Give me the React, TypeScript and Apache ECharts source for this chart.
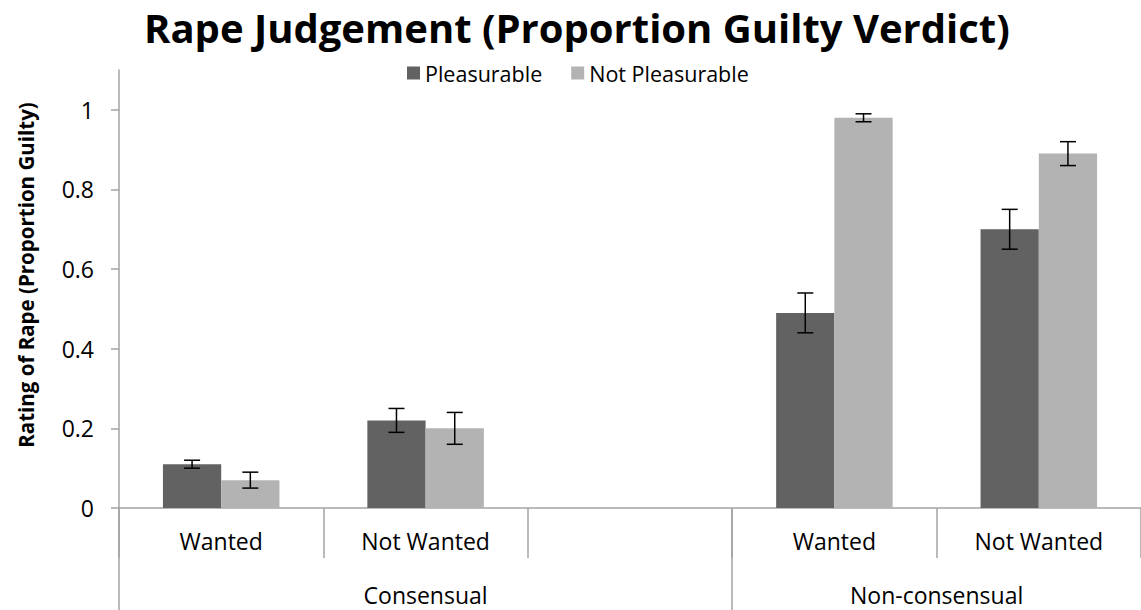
import React, { useEffect, useRef } from "react";
import * as echarts from "echarts";

const titleText = "Rape Judgement (Proportion Guilty Verdict)";
const yAxisTitle = "Rating of Rape (Proportion Guilty)";
const categories = ["Wanted", "Not Wanted", "", "Wanted", "Not Wanted"];
const groups = ["Consensual", "Non-consensual"];
const groupSizes = [3, 2];
const seriesNames = ["Pleasurable", "Not Pleasurable"];
const pleasurable = [0.11, 0.22, null, 0.49, 0.7];
const notPleasurable = [0.07, 0.2, null, 0.98, 0.89];
const errPleasurable = [0.01, 0.03, null, 0.05, 0.05];
const errNotPleasurable = [0.02, 0.04, null, 0.01, 0.03];
const yTicks = [0, 0.2, 0.4, 0.6, 0.8, 1];
const yMax = 1.1;

const FONT = "'Open Sans', 'Noto Sans', sans-serif";
const AXIS_COLOR = "#a3a3a3";
const DARK = "#626262";
const LIGHT = "#b3b3b3";
const CAT_GAP = 0.43;

function groupBounds() {
  const bounds: number[] = [0];
  const centers: number[] = [];
  let acc = 0;
  groupSizes.forEach((n) => {
    centers.push(acc + n / 2);
    acc += n;
    bounds.push(acc);
  });
  return { bounds, centers };
}

function errData(vals: (number | null)[], errs: (number | null)[]) {
  const out: number[][] = [];
  vals.forEach((v, i) => {
    const e = errs[i];
    if (v != null && e != null) out.push([i, v, e]);
  });
  return out;
}

function makeErrorSeries(name: string, vals: (number | null)[], errs: (number | null)[], side: number) {
  return {
    type: "custom",
    name,
    xAxisIndex: 0,
    yAxisIndex: 0,
    z: 5,
    data: errData(vals, errs),
    encode: { x: 0, y: 1 },
    renderItem: (params: any, api: any) => {
      const i = api.value(0);
      const v = api.value(1);
      const e = api.value(2);
      const band = api.size([1, 0])[0];
      const barW = (band * (1 - CAT_GAP)) / 2;
      const c = api.coord([i, v]);
      const x = c[0] + (side * barW) / 2;
      const yTop = api.coord([i, v + e])[1];
      const yBot = api.coord([i, v - e])[1];
      const cap = 8;
      const st = { stroke: "#000", lineWidth: 1.5 };
      return {
        type: "group",
        children: [
          { type: "line", shape: { x1: x, y1: yTop, x2: x, y2: yBot }, style: st },
          { type: "line", shape: { x1: x - cap, y1: yTop, x2: x + cap, y2: yTop }, style: st },
          { type: "line", shape: { x1: x - cap, y1: yBot, x2: x + cap, y2: yBot }, style: st },
        ],
      };
    },
  };
}

export default function App() {
  const ref = useRef<HTMLDivElement>(null);
  useEffect(() => {
    if (!ref.current) return;
    const chart = echarts.init(ref.current, undefined, { renderer: "svg" });
    const { bounds, centers } = groupBounds();
    const total = categories.length;
    chart.setOption({
      animation: false,
      backgroundColor: "#fff",
      title: {
        text: titleText,
        left: 139,
        top: 2,
        textStyle: { fontFamily: FONT, fontWeight: "bold", fontSize: 40, color: "#000" },
      },
      legend: {
        data: seriesNames,
        left: 402,
        top: 57,
        itemWidth: 13,
        itemHeight: 13,
        itemGap: 29,
        icon: "rect",
        textStyle: { fontFamily: FONT, fontSize: 21.5, color: "#000" },
      },
      grid: { left: 119, right: -5, top: 70, bottom: 102, containLabel: false },
      xAxis: [
        {
          type: "category",
          data: categories,
          position: "bottom",
          axisLine: { show: true, onZero: false, lineStyle: { color: AXIS_COLOR, width: 1.5 } },
          axisTick: { show: true, length: 50, interval: 0, lineStyle: { color: AXIS_COLOR, width: 1.5 } },
          axisLabel: { interval: 0, margin: 21, fontFamily: FONT, fontSize: 23, color: "#000" },
          splitLine: { show: false },
        },
        {
          type: "value",
          min: 0,
          max: total,
          position: "bottom",
          axisLine: { show: false },
          axisTick: {
            show: true,
            length: 102,
            customValues: bounds.slice(0, bounds.length - 1),
            lineStyle: { color: AXIS_COLOR, width: 1.5 },
          },
          axisLabel: {
            customValues: centers,
            margin: 75,
            fontFamily: FONT,
            fontSize: 23,
            color: "#000",
            formatter: (v: number) => {
              const idx = centers.findIndex((c) => Math.abs(c - v) < 1e-6);
              return idx >= 0 ? groups[idx] : "";
            },
          },
          splitLine: { show: false },
        },
      ],
      yAxis: {
        type: "value",
        min: 0,
        max: yMax,
        axisLine: { show: true, lineStyle: { color: AXIS_COLOR, width: 1.5 } },
        axisTick: { show: true, length: 8, customValues: yTicks, lineStyle: { color: AXIS_COLOR, width: 1.5 } },
        axisLabel: {
          customValues: yTicks,
          margin: 25,
          fontFamily: FONT,
          fontSize: 23,
          color: "#000",
          formatter: (v: number) => String(v),
        },
        splitLine: { show: false },
      },
      graphic: [
        {
          type: "text",
          x: 26,
          y: 275,
          rotation: Math.PI / 2,
          style: {
            text: yAxisTitle,
            font: `bold 20.5px ${FONT}`,
            fill: "#000",
            align: "center",
            verticalAlign: "middle",
          },
        },
      ],
      series: [
        {
          type: "bar",
          name: seriesNames[0],
          data: pleasurable,
          barGap: "0%",
          barCategoryGap: `${CAT_GAP * 100}%`,
          itemStyle: { color: DARK },
        },
        {
          type: "bar",
          name: seriesNames[1],
          data: notPleasurable,
          barGap: "0%",
          barCategoryGap: `${CAT_GAP * 100}%`,
          itemStyle: { color: LIGHT },
        },
        makeErrorSeries("err-p", pleasurable, errPleasurable, -1),
        makeErrorSeries("err-np", notPleasurable, errNotPleasurable, 1),
      ],
    });
    return () => chart.dispose();
  }, []);
  return (
    <div
      ref={ref}
      style={{ position: "absolute", left: 0, top: 0, width: 1141, height: 610, overflow: "hidden" }}
    />
  );
}
